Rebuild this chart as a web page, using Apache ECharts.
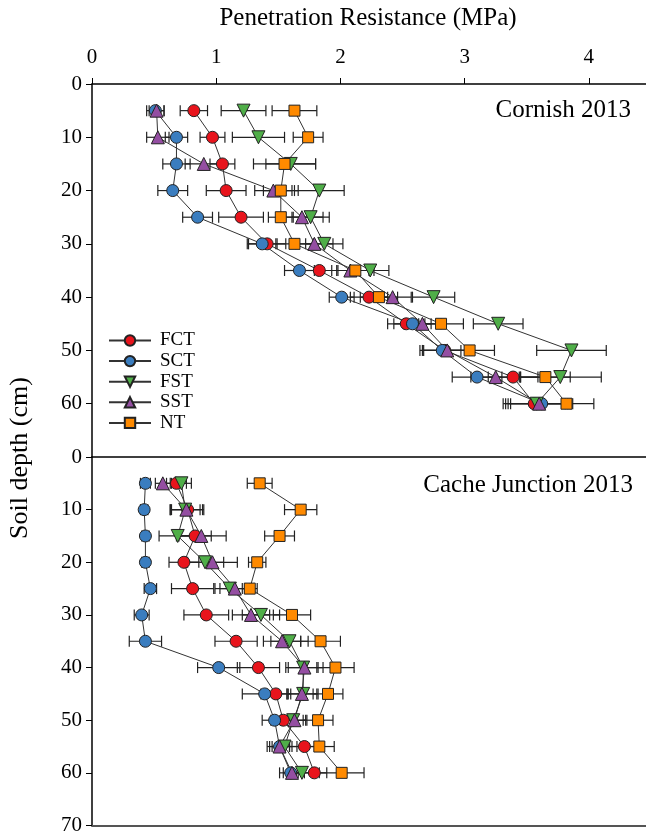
<!DOCTYPE html>
<html>
<head>
<meta charset="utf-8">
<script src="https://cdn.jsdelivr.net/npm/echarts@6/dist/echarts.min.js"></script>
<style>
html,body{margin:0;padding:0;background:#fff;}
#chart{width:646px;height:836px;}
</style>
</head>
<body>
<div id="chart"></div>
<script>
// ---------- data ----------
var depths = [5, 10, 15, 20, 25, 30, 35, 40, 45, 50, 55, 60];
var treatments = ['FCT', 'SCT', 'FST', 'SST', 'NT'];
var xTicks = [0, 1, 2, 3, 4];
var yTicksTop = [0, 10, 20, 30, 40, 50, 60];
var yTicksBottom = [0, 10, 20, 30, 40, 50, 60, 70];
var panelTitles = ['Cornish 2013', 'Cache Junction 2013'];

// Cornish 2013
var cornishFCT = [0.82, 0.97, 1.05, 1.08, 1.20, 1.41, 1.83, 2.23, 2.53, 2.84, 3.39, 3.56];
var cornishSCT = [0.51, 0.68, 0.68, 0.65, 0.85, 1.37, 1.67, 2.01, 2.58, 2.82, 3.10, 3.62];
var cornishFST = [1.22, 1.34, 1.60, 1.83, 1.76, 1.87, 2.24, 2.75, 3.27, 3.86, 3.77, 3.58];
var cornishSST = [0.52, 0.53, 0.90, 1.46, 1.69, 1.79, 2.08, 2.42, 2.66, 2.86, 3.25, 3.60];
var cornishNT  = [1.63, 1.74, 1.55, 1.52, 1.52, 1.63, 2.12, 2.31, 2.81, 3.04, 3.65, 3.82];
var cornishFCTerr = [0.11, 0.10, 0.10, 0.16, 0.18, 0.15, 0.15, 0.15, 0.15, 0.20, 0.20, 0.25];
var cornishSCTerr = [0.07, 0.09, 0.11, 0.12, 0.12, 0.12, 0.12, 0.10, 0.15, 0.15, 0.20, 0.25];
var cornishFSTerr = [0.18, 0.21, 0.20, 0.20, 0.15, 0.15, 0.15, 0.17, 0.20, 0.28, 0.33, 0.25];
var cornishSSTerr = [0.06, 0.09, 0.15, 0.15, 0.17, 0.15, 0.15, 0.15, 0.15, 0.20, 0.20, 0.25];
var cornishNTerr  = [0.18, 0.12, 0.25, 0.14, 0.10, 0.15, 0.15, 0.15, 0.18, 0.20, 0.20, 0.22];

// Cache Junction 2013
var cacheFCT = [0.68, 0.77, 0.83, 0.74, 0.81, 0.92, 1.16, 1.34, 1.48, 1.54, 1.71, 1.79];
var cacheSCT = [0.43, 0.42, 0.43, 0.43, 0.47, 0.40, 0.43, 1.02, 1.39, 1.47, 1.51, 1.60];
var cacheFST = [0.72, 0.75, 0.69, 0.91, 1.11, 1.36, 1.59, 1.70, 1.70, 1.62, 1.55, 1.69];
var cacheSST = [0.57, 0.76, 0.88, 0.97, 1.15, 1.28, 1.53, 1.71, 1.69, 1.63, 1.51, 1.61];
var cacheNT  = [1.35, 1.68, 1.51, 1.33, 1.27, 1.61, 1.84, 1.96, 1.90, 1.82, 1.83, 2.01];
var cacheFCTerr = [0.08, 0.13, 0.13, 0.12, 0.17, 0.18, 0.17, 0.17, 0.12, 0.10, 0.12, 0.10];
var cacheSCTerr = [0.04, 0.03, 0.03, 0.03, 0.05, 0.06, 0.13, 0.17, 0.18, 0.10, 0.10, 0.06];
var cacheFSTerr = [0.08, 0.12, 0.15, 0.15, 0.12, 0.15, 0.15, 0.12, 0.12, 0.10, 0.10, 0.10];
var cacheSSTerr = [0.06, 0.13, 0.20, 0.20, 0.12, 0.15, 0.15, 0.15, 0.12, 0.10, 0.08, 0.10];
var cacheNTerr  = [0.10, 0.13, 0.12, 0.07, 0.06, 0.15, 0.16, 0.15, 0.12, 0.12, 0.12, 0.18];

// ---------- styles ----------
var colors = {FCT: '#e8141c', SCT: '#3a7dbf', FST: '#4fae48', SST: '#944ea2', NT: '#ff8a00'};
var symbols = {FCT: 'circle', SCT: 'circle', FST: 'triangle', SST: 'triangle', NT: 'rect'};
var symRot = {FCT: 0, SCT: 0, FST: 180, SST: 0, NT: 0};
var symSize = {FCT: 12, SCT: 12, FST: 13, SST: 13, NT: 11};
var FONT = '"Liberation Serif", "Times New Roman", serif';

var panels = [
  {vals: {FCT: cornishFCT, SCT: cornishSCT, FST: cornishFST, SST: cornishSST, NT: cornishNT},
   errs: {FCT: cornishFCTerr, SCT: cornishSCTerr, FST: cornishFSTerr, SST: cornishSSTerr, NT: cornishNTerr}},
  {vals: {FCT: cacheFCT, SCT: cacheSCT, FST: cacheFST, SST: cacheSST, NT: cacheNT},
   errs: {FCT: cacheFCTerr, SCT: cacheSCTerr, FST: cacheFSTerr, SST: cacheSSTerr, NT: cacheNTerr}}
];

function errRender(params, api) {
  var y = api.value(1);
  var p1 = api.coord([api.value(2), y]);
  var p2 = api.coord([api.value(3), y]);
  var h = 5.5;
  var st = {stroke: '#222', lineWidth: 1.2};
  return {type: 'group', children: [
    {type: 'line', shape: {x1: p1[0], y1: p1[1], x2: p2[0], y2: p2[1]}, style: st},
    {type: 'line', shape: {x1: p1[0], y1: p1[1] - h, x2: p1[0], y2: p1[1] + h}, style: st},
    {type: 'line', shape: {x1: p2[0], y1: p2[1] - h, x2: p2[0], y2: p2[1] + h}, style: st}
  ]};
}

var series = [];
panels.forEach(function (pn, gi) {
  treatments.forEach(function (t) {
    var v = pn.vals[t], e = pn.errs[t];
    series.push({
      type: 'custom', name: t + '_err', xAxisIndex: gi, yAxisIndex: gi, z: 1,
      renderItem: errRender, encode: {x: 0, y: 1}, silent: true,
      data: depths.map(function (d, i) { return [v[i], d, v[i] - e[i], v[i] + e[i]]; })
    });
  });
});
panels.forEach(function (pn, gi) {
  treatments.forEach(function (t) {
    var v = pn.vals[t];
    series.push({
      type: 'line', name: t, xAxisIndex: gi, yAxisIndex: gi, z: 3,
      symbol: symbols[t], symbolSize: symSize[t], symbolRotate: symRot[t],
      showAllSymbol: true, animation: false,
      lineStyle: {color: '#333', width: 1},
      itemStyle: {color: colors[t], borderColor: '#222', borderWidth: 1},
      data: depths.map(function (d, i) { return [v[i], d]; })
    });
  });
});

var axisLineStyle = {color: '#000', width: 1.5};
var chart = echarts.init(document.getElementById('chart'));
chart.setOption({
  animation: false,
  backgroundColor: '#fff',
  grid: [
    {left: 92, right: 0, top: 84, height: 373},
    {left: 92, right: 0, top: 457, height: 373}
  ],
  xAxis: [
    {gridIndex: 0, type: 'value', position: 'top', min: 0, max: 4.46,
     axisLine: {show: true, lineStyle: axisLineStyle},
     axisTick: {show: true, inside: false, length: 6, customValues: xTicks, lineStyle: {color: '#000'}},
     axisLabel: {customValues: xTicks, fontFamily: FONT, fontSize: 21, color: '#000', margin: 16},
     splitLine: {show: false}},
    {gridIndex: 1, type: 'value', position: 'top', min: 0, max: 4.46,
     axisLine: {show: true, lineStyle: axisLineStyle},
     axisTick: {show: false}, axisLabel: {show: false}, splitLine: {show: false}},
    {gridIndex: 1, type: 'value', position: 'bottom', min: 0, max: 4.46,
     axisLine: {show: true, lineStyle: {color: '#555', width: 2}},
     axisTick: {show: false}, axisLabel: {show: false}, splitLine: {show: false}}
  ],
  yAxis: [
    {gridIndex: 0, type: 'value', inverse: true, min: 0, max: 70, interval: 10,
     axisLine: {show: true, lineStyle: axisLineStyle},
     axisTick: {show: true, inside: false, length: 6, customValues: yTicksTop, lineStyle: {color: '#000'}},
     axisLabel: {customValues: yTicksTop, fontFamily: FONT, fontSize: 21, color: '#000', margin: 10},
     splitLine: {show: false}},
    {gridIndex: 1, type: 'value', inverse: true, min: 0, max: 70, interval: 10,
     axisLine: {show: true, lineStyle: axisLineStyle},
     axisTick: {show: true, inside: false, length: 6, customValues: yTicksBottom, lineStyle: {color: '#000'}},
     axisLabel: {customValues: yTicksBottom, fontFamily: FONT, fontSize: 21, color: '#000', margin: 10},
     splitLine: {show: false}}
  ],
  legend: {
    orient: 'vertical', left: 103, top: 326, itemWidth: 42, itemHeight: 13, itemGap: 1.6,
    data: treatments,
    textStyle: {fontFamily: FONT, fontSize: 19, color: '#000', padding: [0, 0, 0, 4]}
  },
  graphic: [
    {type: 'text', x: 368, y: 18, style: {text: 'Penetration Resistance (MPa)', font: '25px ' + FONT, fill: '#000', align: 'center', verticalAlign: 'middle'}},
    {type: 'text', x: 631, y: 110, style: {text: panelTitles[0], font: '25px ' + FONT, fill: '#000', align: 'right', verticalAlign: 'middle'}},
    {type: 'text', x: 633, y: 485, style: {text: panelTitles[1], font: '25px ' + FONT, fill: '#000', align: 'right', verticalAlign: 'middle'}},
    {type: 'text', x: 20, y: 458, rotation: Math.PI / 2, style: {text: 'Soil depth (cm)', font: '26px ' + FONT, fill: '#000', align: 'center', verticalAlign: 'middle'}}
  ],
  series: series
});
</script>
</body>
</html>
